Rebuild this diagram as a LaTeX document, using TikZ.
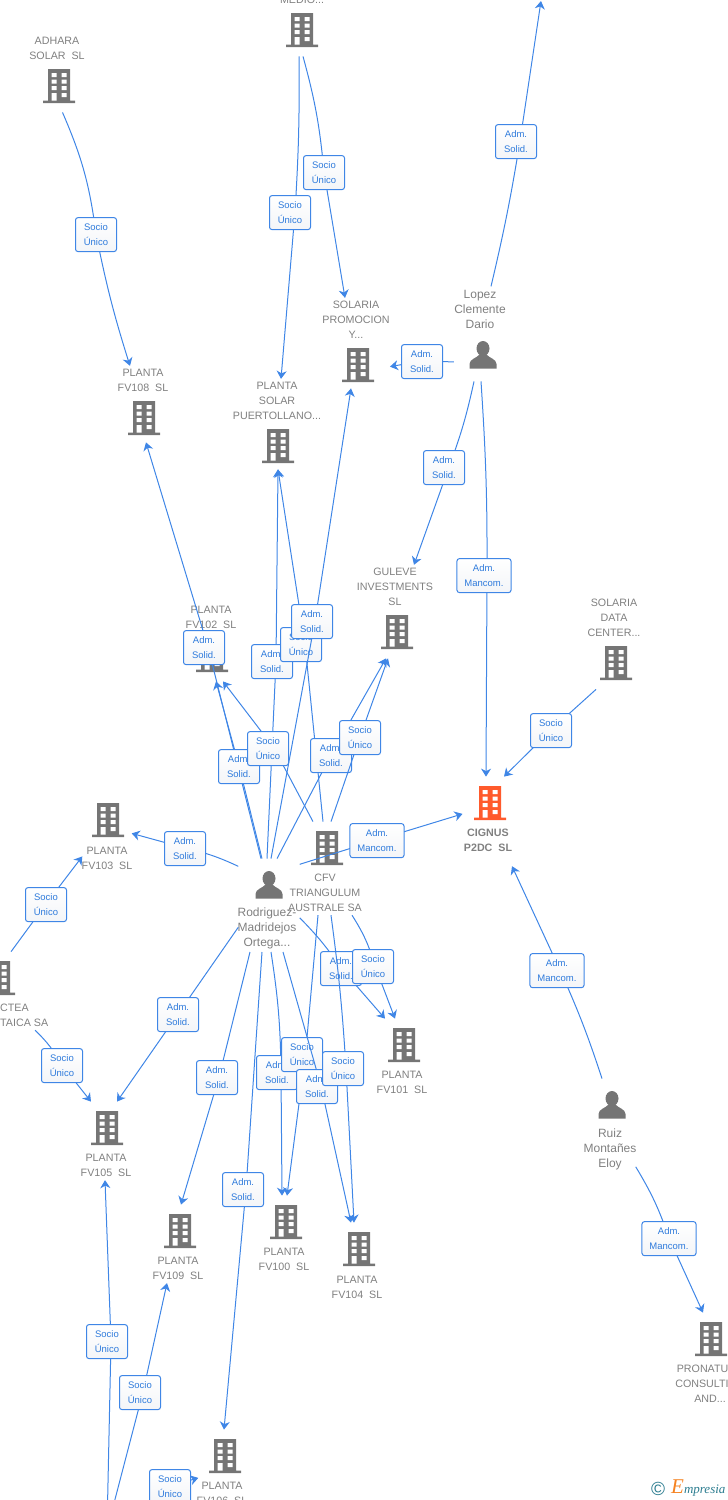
\documentclass[tikz,border=0pt]{standalone}
\usepackage{fontspec}
\setmainfont{Liberation Sans}
\newfontfamily\logofont{Liberation Serif}
\usetikzlibrary{arrows.meta,fit}

\definecolor{linkblue}{HTML}{3F86E6}
\definecolor{textblue}{HTML}{2F7BDC}
\definecolor{boxbottom}{HTML}{F3F5F8}
\definecolor{iconGray}{HTML}{757575}
\definecolor{textGray}{HTML}{808080}
\definecolor{cignusOrange}{HTML}{FF5A2C}
\definecolor{logoTeal}{HTML}{2B7C8F}
\definecolor{logoOrange}{HTML}{F58220}

\newcommand{\bldgshape}[1]{%
  \fill[#1] (-11,-17) rectangle (11,14.5) (-16,14.5) rectangle (16,17);
  \fill[white] (-7.5,-13) rectangle (-2.5,-9) (2.5,-13) rectangle (7.5,-9)
    (-7.5,-6.5) rectangle (-2.5,-2.5) (2.5,-6.5) rectangle (7.5,-2.5)
    (-7.5,0) rectangle (-2.5,4) (2.5,0) rectangle (7.5,4)
    (-7.5,7) rectangle (-2.5,14.5) (2.5,7) rectangle (7.5,11);}
\newcommand{\persshape}{%
  \fill[iconGray] (0,-6.5) ellipse (6.5 and 7.5);
  \fill[iconGray] (-13.5,13.5) -- (-13.5,9) .. controls (-13.5,4) and (-6,3) .. (-3,-1)
    -- (3,-1) .. controls (6,3) and (13.5,4) .. (13.5,9) -- (13.5,13.5) -- cycle;}

\tikzset{
  iconbox/.style={minimum width=34pt,minimum height=46pt,inner sep=0pt},
  bldg/.style={iconbox,path picture={\bldgshape{iconGray}}},
  bldgred/.style={iconbox,path picture={\bldgshape{cignusOrange}}},
  pers/.style={iconbox,path picture={\persshape}},
  lbl/.style={inner sep=0pt,align=center,yshift=-1pt,text=textGray,font=\fontsize{10.7}{15}\selectfont},
  lblleft/.style={lbl,align=left,anchor=west},
  lblbold/.style={lbl,font=\fontsize{10.7}{15}\selectfont\bfseries},
  perslbl/.style={lbl,font=\fontsize{12}{15}\selectfont},
  link/.style={draw=linkblue,line width=1pt},
  linkto/.style={link,-{Stealth[length=8pt,width=10pt,inset=2.5pt]}},
  relbox/.style={draw=linkblue,line width=1pt,rounded corners=2.5pt,top color=white,bottom color=boxbottom,
    minimum width=41pt,minimum height=34pt,inner xsep=7.5pt,inner ysep=0pt,yshift=-0.6pt,align=center,text=textblue,
    font=\fontsize{9.5}{15}\selectfont},
}

% icon, label, whole entity as one rectangle for the connectors
\newcommand{\ent}[6]{%
  \node[#1] (#3-i) at (#4) {};
  \node[#2] (#3-t) at (#5) {#6};
  \node[fit=(#3-i)(#3-t),inner sep=3pt] (#3) {};}
% [box options] {from}{bend}{name}{through}{text}{bend}{to}
\newcommand{\rel}[8][]{%
  \coordinate (#4) at (#5);
  \draw[link] (#2) to[#3] (#4);
  \draw[linkto] (#4) to[#7] (#8);
  \node[relbox,#1] (#4box) at (#4) {#6};}
\newcommand{\rAS}{Adm.\\Solid.}
\newcommand{\rSU}{Socio\\Único}
\newcommand{\rAM}{Adm.\\Mancom.}

\begin{document}
\begin{tikzpicture}[x=1pt,y=-1pt]
  \useasboundingbox (0,0) rectangle (728,1500);
  \clip (0,0) rectangle (728,1500);

  \ent{bldg}{lbl}{medio}{302,30}{302,-1}{MEDIO...}
  \ent{bldg}{lbl}{adhara}{59,86}{57,47.5}{ADHARA\\SOLAR\ \ SL}
  \ent{bldg}{lbl}{fv108}{144,418}{143,379.5}{PLANTA\\FV108\ \ SL}
  \ent{bldg}{lbl}{puerto}{278,446}{277,400}{PLANTA\\SOLAR\\PUERTOLLANO...}
  \ent{bldg}{lbl}{promo}{358,365}{356,319}{SOLARIA\\PROMOCION\\Y...}
  \ent{pers}{perslbl}{lopez}{483,355}{480,308}{Lopez\\Clemente\\Dario}
  \ent{bldg}{lbl}{guleve}{397,632}{395,586}{GULEVE\\INVESTMENTS\\SL}
  \ent{bldg}{lbl}{datac}{616,663}{614,617}{SOLARIA\\DATA\\CENTER...}
  \ent{bldg}{lbl}{fv102}{212,655}{211,616.5}{PLANTA\\FV102\ \ SL}
  \ent{bldg}{lbl}{fv103}{108,820}{107,857.5}{PLANTA\\FV103\ \ SL}
  \ent{bldg}{lbl}{cfv}{327,848}{325,892}{CFV\\TRIANGULUM\\AUSTRALE SA}
  \ent{pers}{perslbl}{rodri}{269,885}{267,927}{Rodriguez-\\Madridejos\\Ortega...}
  \ent{bldgred}{lblbold}{cignus}{490,803}{488,839.5}{CIGNUS\\P2DC\ \ SL}
  \ent{bldg}{lblleft}{ctea}{-1,978}{0,1014.5}{CTEA\\TAICA SA}
  \ent{bldg}{lbl}{fv101}{404,1045}{402,1081.5}{PLANTA\\FV101\ \ SL}
  \ent{bldg}{lbl}{fv105}{107,1128}{106,1164.5}{PLANTA\\FV105\ \ SL}
  \ent{bldg}{lbl}{fv109}{180,1231}{178,1267.5}{PLANTA\\FV109\ \ SL}
  \ent{bldg}{lbl}{fv100}{286,1222}{284,1258.5}{PLANTA\\FV100\ \ SL}
  \ent{bldg}{lbl}{fv104}{359,1249}{357,1286.5}{PLANTA\\FV104\ \ SL}
  \ent{bldg}{lbl}{fv106}{225,1456}{222,1492.5}{PLANTA\\FV106\ \ SL}
  \ent{pers}{perslbl}{ruiz}{612,1105}{610,1148}{Ruiz\\Montañes\\Eloy}
  \ent{bldg}{lbl}{pronatu}{711,1339}{710,1383}{PRONATU\phantom{RA}\\CONSULTI\phantom{NG}\\AND...}
  \coordinate (topco) at (541,1);
  \coordinate (botco) at (107,1530);

  \rel{[xshift=5.5pt]adhara.south}{bend left=8}{rA}{96,234}{\rSU}{bend right=3}{[xshift=-13pt]fv108.north}
  \rel[xshift=-5pt]{[xshift=-3pt]medio.south}{bend left=2}{rB}{295,212}{\rSU}{}{[xshift=4pt]puerto.north}
  \rel{[xshift=1pt]medio.south}{bend left=5}{rC}{324,172}{\rSU}{}{[xshift=-11pt]promo.north}
  \rel[xshift=-4pt]{[xshift=11pt]lopez.north}{bend right=2}{rD}{520,141}{\rAS}{}{topco}
  \rel{[xshift=3pt,yshift=-28pt]lopez.west}{}{rE}{422,361}{\rAS}{}{[xshift=-3pt,yshift=-22pt]promo.east}
  \rel[xshift=-5pt]{[xshift=-6pt]lopez.south}{bend left=4}{rF}{449,467}{\rAS}{}{[xshift=19pt]guleve.north}
  \rel[xshift=-3pt]{[xshift=1pt]lopez.south}{bend left=2}{rG}{487,575}{\rAM}{}{[xshift=-2pt]cignus.north}
  \rel{[xshift=-18pt]datac.south}{}{rH}{551,730}{\rSU}{}{[xshift=16pt]cignus.north}

  \rel[xshift=-4pt]{[xshift=-6pt]rodri.north}{}{rI}{208,647}{\rAS}{}{[xshift=3pt,yshift=2pt]fv108.south}
  \rel{[xshift=-5pt]rodri.north}{}{rJ}{239,766}{\rAS}{}{[xshift=5pt]fv102.south}
  \rel[xshift=-4pt]{rodri.north}{}{rK}{276,661}{\rAS}{}{[xshift=1pt,yshift=3pt]puerto.south}
  \rel[xshift=-6pt]{[xshift=-12pt]cfv.north}{}{rL}{274,748}{\rSU}{}{[xshift=12pt]fv102.south}
  \rel[xshift=-4pt]{[xshift=-2pt]cfv.north}{}{rM}{305,644}{\rSU}{}{[xshift=1pt,yshift=3pt]puerto.south}
  \rel[xshift=-3pt]{[xshift=4pt]rodri.north}{}{rN}{315,621}{\rAS}{}{[xshift=-5pt,yshift=3pt]promo.south}
  \rel{[xshift=10pt]rodri.north}{}{rO}{331,755}{\rAS}{}{[xshift=-9pt]guleve.south}
  \rel{[xshift=6pt]cfv.north}{}{rP}{360,737}{\rSU}{}{[xshift=-7pt]guleve.south}
  \rel{[xshift=4pt,yshift=39pt]rodri.west}{bend right=6}{rQ}{185,848}{\rAS}{}{[xshift=-4pt]fv103.east}
  \rel{[yshift=41pt]rodri.east}{}{rR}{377,840}{\rAM}{}{[xshift=2pt,yshift=2pt]cignus.west}

  \rel{[xshift=-4pt]ctea.north}{}{rS}{46,904}{\rSU}{}{[xshift=4pt,yshift=-23pt]fv103.west}
  \rel{[xshift=20pt]ctea.south}{bend left=8}{rT}{62,1065}{\rSU}{}{[xshift=-15pt]fv105.north}
  \rel{[xshift=4pt,yshift=-22pt]rodri.west}{}{rU}{178,1014}{\rAS}{}{[xshift=11pt]fv105.north}
  \rel[xshift=-2pt]{[xshift=-17pt]rodri.south}{}{rV}{219,1077}{\rAS}{}{[xshift=3pt]fv109.north}
  \rel[xshift=-3pt]{[xshift=-5pt]rodri.south}{}{rW}{246,1189}{\rAS}{}{[xshift=2pt]fv106.north}

  \rel{[yshift=-12.5pt]rodri.east}{bend left=5}{rX}{341,968}{\rAS}{}{[xshift=-17pt]fv101.north}
  \rel[xshift=-2pt]{[xshift=27pt]cfv.south}{bend left=8}{rY}{375,966}{\rSU}{}{[xshift=-7pt]fv101.north}
  \rel[xshift=-4pt]{[xshift=4pt]rodri.south}{bend left=4}{rZ}{281,1072}{\rAS}{}{[xshift=-2pt]fv100.north}
  \rel[xshift=-3.5pt]{[xshift=-7pt]cfv.south}{}{sA}{305.5,1054}{\rSU}{}{[xshift=3pt]fv100.north}
  \rel[xshift=-4pt]{[xshift=16pt]rodri.south}{}{sB}{321,1086}{\rAS}{}{[xshift=-6pt]fv104.north}
  \rel[xshift=-3pt]{[xshift=6pt]cfv.south}{bend left=2}{sC}{346,1068}{\rSU}{}{[xshift=-3pt]fv104.north}

  \rel[xshift=-3pt]{[xshift=-8pt]ruiz.north}{bend right=3}{sD}{560,970}{\rAM}{}{[xshift=24pt,yshift=-11pt]cignus.south}
  \rel{[xshift=-4pt,yshift=-41pt]ruiz.east}{bend left=6}{sE}{669,1238}{\rAM}{}{[xshift=-7pt]pronatu.north}

  \rel[xshift=-4pt]{botco}{}{sF}{111,1341}{\rSU}{}{[xshift=-1pt]fv105.south}
  \rel[xshift=-3pt]{botco}{}{sG}{143,1392}{\rSU}{}{[xshift=-11pt]fv109.south}
  \rel{botco}{}{sH}{170,1486}{\rSU}{}{[xshift=5pt,yshift=-9pt]fv106.west}

  \node[text=logoTeal,inner sep=0pt,font=\fontsize{19}{19}\selectfont] (logoc) at (658,1489) {©};
  \node[inner sep=0pt,anchor=west,text=logoTeal,font=\logofont\itshape\fontsize{13}{15}\selectfont] (logot) at (671,1488)
    {{\color{logoOrange}\fontsize{21}{15}\selectfont E}mpresia};
\end{tikzpicture}
\end{document}
